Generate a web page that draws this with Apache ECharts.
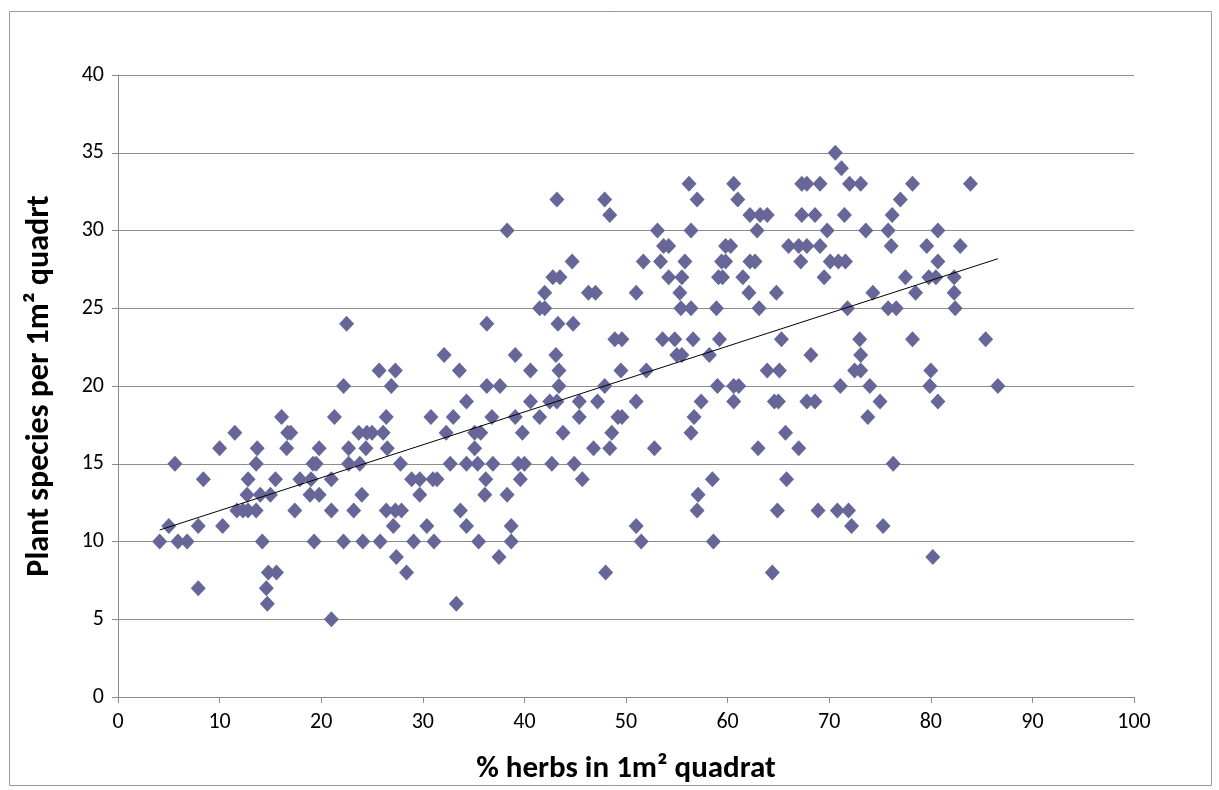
<!DOCTYPE html>
<html>
<head>
<meta charset="utf-8">
<script src="https://cdn.jsdelivr.net/npm/echarts@6/dist/echarts.min.js"></script>
<style>
  html, body { margin: 0; padding: 0; background: #ffffff; }
  #chart { width: 1219px; height: 790px; }
</style>
</head>
<body>
<div id="chart"></div>
<script>
// Plant species count per quadrat (y) and the % herb cover values observed at that count (x)
const speciesLevels = [35, 34, 33, 32, 31, 30, 29, 28, 27, 26, 25, 24, 23, 22, 21, 20, 19, 18, 17, 16, 15, 14, 13, 12, 11, 10, 9, 8, 7, 6, 5];
const herbsAtLevel = [
  [70.6],
  [71.2],
  [56.2, 60.6, 67.3, 67.8, 69.1, 72.0, 73.1, 78.2, 83.9],
  [43.2, 47.9, 57.0, 61.0, 77.0],
  [48.4, 62.2, 63.2, 63.9, 67.3, 68.6, 71.5, 76.2],
  [38.3, 53.1, 56.4, 62.9, 69.8, 73.6, 75.8, 80.7],
  [53.7, 54.2, 59.8, 60.3, 66.0, 67.0, 67.8, 69.1, 76.1, 79.6, 82.9],
  [44.7, 51.7, 53.4, 55.8, 59.4, 59.8, 62.2, 62.7, 67.2, 70.1, 70.9, 71.6, 80.7],
  [42.8, 43.5, 54.2, 55.5, 59.1, 59.5, 61.5, 69.5, 77.5, 79.8, 80.5, 82.3],
  [42.0, 46.3, 47.0, 51.0, 55.3, 62.1, 64.8, 74.3, 78.5, 82.3],
  [41.5, 42.0, 55.4, 56.4, 58.9, 63.1, 71.8, 75.8, 76.6, 82.4],
  [22.5, 36.3, 43.3, 44.8],
  [48.9, 49.6, 53.6, 54.8, 56.6, 59.2, 65.3, 73.0, 78.2, 85.4],
  [32.1, 39.1, 43.1, 55.0, 55.5, 58.2, 68.2, 73.1],
  [25.7, 27.3, 33.6, 40.6, 43.4, 49.5, 52.0, 63.9, 65.1, 72.5, 73.1, 80.0],
  [22.2, 26.9, 36.3, 37.6, 43.4, 47.9, 59.0, 60.6, 61.1, 71.1, 74.0, 79.9, 86.6],
  [34.3, 40.6, 42.5, 43.2, 45.4, 47.2, 51.0, 57.4, 60.6, 64.6, 65.0, 67.8, 68.6, 75.0, 80.7],
  [16.1, 21.3, 26.4, 30.8, 33.0, 36.8, 39.1, 41.5, 45.4, 49.2, 49.6, 56.7, 73.8],
  [11.5, 16.7, 17.0, 23.7, 24.5, 25.0, 26.1, 32.3, 35.1, 35.7, 39.8, 43.8, 48.6, 56.4, 65.7],
  [10.0, 13.7, 16.6, 19.8, 22.7, 24.4, 26.5, 35.1, 46.8, 48.4, 52.8, 63.0, 67.0],
  [5.6, 13.6, 19.2, 19.5, 22.7, 23.8, 27.8, 32.7, 34.3, 35.4, 36.9, 39.4, 40.0, 42.7, 44.9, 76.3],
  [8.4, 12.8, 15.5, 17.9, 19.0, 21.0, 28.9, 29.7, 31.0, 31.4, 36.2, 39.6, 45.7, 58.5, 65.8],
  [12.7, 14.0, 15.0, 18.9, 19.8, 24.0, 29.7, 36.1, 38.3, 57.1],
  [11.7, 12.3, 12.8, 13.6, 17.4, 21.0, 23.2, 26.4, 27.3, 27.9, 33.7, 57.0, 64.9, 68.9, 70.8, 71.9],
  [5.0, 7.9, 10.3, 27.1, 30.4, 34.3, 38.7, 51.0, 72.2, 75.3],
  [4.1, 5.9, 6.8, 14.2, 19.3, 22.2, 24.1, 25.8, 29.1, 31.1, 35.5, 38.7, 51.5, 58.6],
  [27.4, 37.5, 80.2],
  [14.8, 15.6, 28.4, 48.0, 64.4],
  [7.9, 14.6],
  [14.7, 33.3],
  [21.0]
];

const xTicks = { min: 0, max: 100, step: 10 };
const yTicks = { min: 0, max: 40, step: 5 };

// Flatten into [herb %, species] pairs
const points = [];
speciesLevels.forEach((s, i) => herbsAtLevel[i].forEach(h => points.push([h, s])));

// Least-squares linear trend over the observed x range
const n = points.length;
let sx = 0, sy = 0, sxx = 0, sxy = 0, xmin = Infinity, xmax = -Infinity;
points.forEach(([x, y]) => {
  sx += x; sy += y; sxx += x * x; sxy += x * y;
  xmin = Math.min(xmin, x); xmax = Math.max(xmax, x);
});
const slope = (n * sxy - sx * sy) / (n * sxx - sx * sx);
const intercept = (sy - slope * sx) / n;
const trend = [[xmin, intercept + slope * xmin], [xmax, intercept + slope * xmax]];

const FONT = 'Carlito, Lato, sans-serif';
const gridGray = '#8c8c8c';

const chart = echarts.init(document.getElementById('chart'), null, { renderer: 'canvas' });
chart.setOption({
  backgroundColor: '#ffffff',
  animation: false,
  graphic: [{
    type: 'rect',
    shape: { x: 9.5, y: 11.5, width: 1202, height: 774 },
    style: { fill: 'none', stroke: '#9a9a9a', lineWidth: 1 },
    silent: true
  }],
  grid: { left: 118, right: 85, top: 75, bottom: 93 },
  xAxis: {
    type: 'value',
    min: xTicks.min, max: xTicks.max, interval: xTicks.step,
    name: '% herbs in 1m² quadrat',
    nameLocation: 'middle',
    nameGap: 57,
    nameTextStyle: { fontFamily: FONT, fontWeight: 'bold', fontSize: 31, color: '#000' },
    axisLine: { show: true, onZero: false, lineStyle: { color: gridGray, width: 1 } },
    axisTick: { show: true, inside: false, length: 6, lineStyle: { color: gridGray } },
    axisLabel: { fontFamily: FONT, fontSize: 22, color: '#000', margin: 14 },
    splitLine: { show: false }
  },
  yAxis: {
    type: 'value',
    min: yTicks.min, max: yTicks.max, interval: yTicks.step,
    name: 'Plant species per 1m² quadrt',
    nameLocation: 'middle',
    nameGap: 62,
    nameRotate: 90,
    nameTextStyle: { fontFamily: FONT, fontWeight: 'bold', fontSize: 32, color: '#000' },
    axisLine: { show: true, lineStyle: { color: gridGray, width: 1 } },
    axisTick: { show: true, inside: false, length: 6, lineStyle: { color: gridGray } },
    axisLabel: { fontFamily: FONT, fontSize: 22, color: '#000', margin: 14 },
    splitLine: { show: true, lineStyle: { color: gridGray, width: 1 } }
  },
  series: [
    {
      type: 'scatter',
      data: points,
      symbol: 'diamond',
      symbolSize: [15, 16],
      itemStyle: { color: '#666699', opacity: 1 },
      z: 2
    },
    {
      type: 'line',
      data: trend,
      symbol: 'none',
      lineStyle: { color: '#000000', width: 1 },
      z: 3
    }
  ]
});
</script>
</body>
</html>
